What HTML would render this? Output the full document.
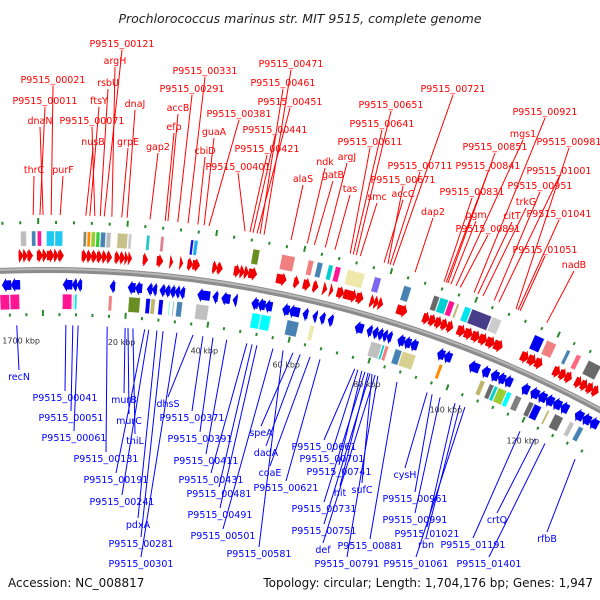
<!DOCTYPE html>
<html><head><meta charset="utf-8"><style>
html,body{margin:0;padding:0;background:#fff;width:600px;height:600px;overflow:hidden;}
svg{display:block;overflow:hidden;}
text{font-family:"DejaVu Sans","Liberation Sans",sans-serif;}
</style></head><body>
<svg id="map" width="600" height="600" viewBox="0 0 600 600" xmlns="http://www.w3.org/2000/svg">
<text x="300" y="23" text-anchor="middle" font-size="12.5" font-style="italic" fill="#222">Prochlorococcus marinus str. MIT 9515, complete genome</text>
<g id="dots"></g>
<g id="backbone"></g>
<g id="lines"></g>
<g id="feats"></g>
<g id="ticks"></g>
<g id="labels"></g>
<text x="8" y="587" font-size="12" fill="#111">Accession: NC_008817</text>
<text x="593" y="587" text-anchor="end" font-size="12" fill="#111">Topology: circular; Length: 1,704,176 bp; Genes: 1,947</text>
</svg>
<script>
const GENOME_KBP = 1704.176;
const tickKbp = [1700, 20, 40, 60, 80, 100, 120];
const tickText = ["1700 kbp", "20 kbp", "40 kbp", "60 kbp", "80 kbp", "100 kbp", "120 kbp"];
const fwdStart = [-3.5,-2.5,-1.5, 0.7,2.0,3.0,4.6,5.6, 11.0,12.2,13.3,14.5,15.7,16.8, 18.6,19.8,20.9,21.7, 25.1,28.3,31.3,33.6,35.4,36.6, 41.2,42.3, 46.2,47.6,48.6,49.6, 56.1,60.2,62.4,64.7,67.1,68.7, 70.4,72.0,75.0, 78.3,79.3,80.3, 84.7, 91.0,92.5,94.0,95.5,96.9, 99.4,101.2,103.0,104.8,106.6,108.5, 115.2,117.0,118.8, 123.4,125.0,126.5, 129.0,130.5,132.0,133.5];
const fwdEnd   = [-2.5,-1.5,-0.3, 2.0,3.0,4.6,5.6,6.8, 12.2,13.3,14.5,15.7,16.8,17.9, 19.8,20.9,21.7,22.5, 26.2,29.7,32.0,34.3,36.6,38.2, 42.3,43.5, 47.6,48.6,49.6,51.5, 58.4,61.4,64.0,65.9,68.0,69.4, 72.0,75.0,76.6, 79.3,80.3,81.3, 87.1, 92.5,94.0,95.5,96.9,98.3, 101.2,103.0,104.8,106.6,108.5,110.5, 117.0,118.8,120.5, 125.0,126.5,128.0, 130.5,132.0,133.5,134.9];
const revStart = [-7.6,-5.5, 6.75,8.9,10.0, 17.8, 22.1,23.8, 26.6,27.8, 29.6,30.8,32.0,33.2,34.3, 38.6,42.2,44.3,47.0, 51.5,53.0,54.7, 58.9,60.5,63.8,66.2,67.9,69.9, 76.5,79.4,80.8,82.0,83.2,84.3, 87.0,88.6,90.2, 96.9,98.6, 104.9,108.2, 110.5,112.3,114.0, 118.4, 120.7,122.7,124.7,126.6,128.6, 132.4,134.4,136.4];
const revEnd   = [-5.5,-3.4, 8.9,10.0,11.2, 19.0, 23.8,25.4, 27.8,28.9, 30.8,32.0,33.2,34.3,35.5, 41.5,43.4,46.3,48.0, 53.0,54.7,56.4, 60.5,63.0,65.0,67.2,69.1,71.1, 78.5,80.6,82.0,83.2,84.3,85.5, 88.6,90.2,91.9, 98.6,100.4, 107.4,110.0, 112.3,114.0,115.8, 120.2, 122.7,124.7,126.6,128.6,130.5, 134.4,136.4,138.4];
const fboxStart = [-3.1,-0.6,0.7,2.75,4.7, 11.1,12.0,12.9,14.0,15.0,16.3, 18.8,21.3, 25.4,28.6, 35.4,36.2, 49.6,56.2, 62.3,64.4,67.0,68.6,71.4,77.7,84.6, 91.7,93.2,95.3,97.2,99.1,100.8,105.7, 116.1,119.1,124.1,126.5,129.5];
const fboxEnd   = [-1.6,0.5,1.8,4.7,6.6, 12.0,12.9,14.0,15.0,16.3,17.5, 21.3,22.2, 26.3,29.5, 36.2,37.2, 51.3,59.4, 63.7,65.8,68.2,70.0,75.6,79.4,86.5, 93.2,95.3,96.8,97.9,100.8,105.7,108.1, 118.6,121.6,125.1,127.8,132.8];
const fboxColor = ["#bdbdbd","#4682b4","#ff1493","#1ec8f0","#1ec8f0", "#8b8b6b","#ff8c00","#9acd32","#32cd32","#4682b4","#bbbbbb", "#c8c08a","#cccccc", "#20c8c8","#e08090", "#1010e0","#20b0f0", "#6b8e23","#f08080", "#f08080","#4682b4","#00ced1","#ff1493","#eee8aa","#7b68ee","#4682b4", "#696969","#00ced1","#ff1493","#bdb76b","#00e5ee","#483d8b","#cccccc", "#0000ee","#f08080","#4682b4","#ff6680","#696969"];
const rboxStart = [-8.3,-5.9, 6.6,9.0,9.5, 17.6, 22.4, 26.5,27.7,29.6,32.0,33.0,33.9, 38.5, 52.0,54.2, 60.5, 66.1, 81.1,83.9,84.6, 87.1,88.9, 98.2, 108.7, 111.0,112.3,113.3,115.6, 117.8, 121.3,122.7, 126.1, 128.1, 132.1, 134.5];
const rboxEnd   = [-5.9,-3.5, 9.0,9.5,10.2, 18.6, 25.3, 27.7,28.9,30.8,32.5,33.4,35.4, 41.7, 54.2,56.7, 63.5, 67.3, 83.9,84.6,85.6, 88.9,92.4, 99.2, 110.0, 112.3,113.3,115.6,116.9, 119.5, 122.7,124.7, 126.8, 130.5, 133.4, 135.9];
const rboxColor = ["#ff1493","#ff1493", "#ff1493","#cccccc","#00e5ee", "#f08080", "#6b8e23", "#0000ee","#bdb76b","#0000ee","#7fffd4","#4682b4","#4682b4", "#c0c0c0", "#00ffff","#00ffff", "#4682b4", "#eee8aa", "#c0c0c0","#00ced1","#f08080", "#4682b4","#d8d090", "#ff8c00", "#bdb76b", "#696969","#00ced1","#9acd32","#00ffff", "#808080", "#696969","#0000ee", "#bdb76b", "#696969", "#c0c0c0", "#4682b4"];
const topNames = ["P9515_00121","argH","P9515_00021","rsbU","P9515_00011","ftsY","dnaJ","dnaN","P9515_00071","nusB","grpE","thrC","purF","P9515_00331","P9515_00291","accB","efp","gap2","P9515_00381","guaA","cbiD","P9515_00401","P9515_00471","P9515_00461","P9515_00451","P9515_00441","P9515_00421","alaS","ndk","gatB","argJ","tas","P9515_00611","P9515_00641","P9515_00651","smc","accC","P9515_00671","P9515_00711","P9515_00721","dap2","P9515_00831","P9515_00841","P9515_00851","pgm","P9515_00891","mgs1","P9515_00921","citT","trkG","P9515_00951","P9515_01001","P9515_00981","P9515_01041","P9515_01051","nadB"];
const topKbp = [15.7,17.4,3.9,14.8,1.4,12.5,20.8,2.1,13.6,11.6,19.6,-0.1,5.9,34.4,32.1,29.9,29.3,25.9,39.1,38.0,36.6,47.2,51.5,50.6,49.9,49.0,48.3,57.6,61.3,62.9,65.4,67.6,71.1,71.8,72.5,73.4,78.9,79.8,80.3,81.0,86.1,92.9,93.4,93.8,94.5,96.7,95.7,100.0,100.9,102.1,104.8,105.9,110.0,110.5,111.0,117.5];
const topLabelX = [122,115,53,108,45,99,135,40,92,93,128,34,63,205,192,178,174,158,239,214,205,238,291,283,290,275,267,303,325,333,347,350,370,382,391,377,403,403,420,453,433,472,488,495,476,488,523,545,512,526,540,559,569,559,545,574];
const topLabelY = [47,64,83,86,104,104,107,124,124,145,145,173,173,74,92,111,130,150,117,135,154,170,67,86,105,133,152,182,165,178,160,192,145,127,108,200,197,183,169,92,215,195,169,150,218,232,137,115,219,205,189,174,145,217,253,268];
const botNames = ["recN","P9515_00041","P9515_00051","P9515_00061","P9515_00131","murB","murC","thiL","P9515_00191","P9515_00241","pdxA","P9515_00281","P9515_00301","dhsS","P9515_00371","P9515_00391","P9515_00411","P9515_00431","P9515_00481","P9515_00491","P9515_00501","P9515_00581","speA","dadA","coaE","P9515_00621","P9515_00661","P9515_00701","P9515_00741","P9515_00731","hit","sufC","P9515_00751","def","P9515_00791","P9515_00881","cysH","P9515_00961","P9515_00991","P9515_01021","rbn","P9515_01061","P9515_01191","crtQ","P9515_01401","rfbB"];
const botKbp = [-4.4,7.6,9.3,10.6,17.7,22.1,22.8,24.0,26.9,27.9,29.9,31.4,34.8,38.8,41.2,43.7,47.1,52.1,53.4,54.6,58.6,61.1,63.6,65.4,67.9,70.4,79.2,80.0,81.0,81.8,82.6,83.6,83.1,84.4,85.1,90.0,97.8,99.1,101.2,105.1,106.4,107.7,122.4,126.5,129.2,137.5];
const botLabelX = [19,65,71,74,106,124,129,135,116,122,138,141,141,168,192,200,206,211,219,220,223,259,261,266,270,286,324,332,339,324,340,362,324,323,347,370,405,415,415,427,426,416,473,497,489,547];
const botLabelY = [380,401,421,441,462,403,424,444,483,505,528,547,567,407,421,442,464,483,497,518,539,557,436,456,476,491,450,462,475,512,496,493,534,553,567,549,478,502,523,537,548,567,548,523,567,542];

const NS = "http://www.w3.org/2000/svg";
const CX = 46, CY = 1435, R = 1165;
function ang(k){ return (k / GENOME_KBP * 360 - 0.58) * Math.PI / 180; }
function px(k, r){ return CX + r * Math.sin(ang(k)); }
function py(k, r){ return CY - r * Math.cos(ang(k)); }
function P(k, r){ return px(k, r).toFixed(2) + "," + py(k, r).toFixed(2); }
function mk(tag, parent){ const e = document.createElementNS(NS, tag); document.getElementById(parent).appendChild(e); return e; }
function arcPath(k0, k1, r){ return "M" + P(k0, r) + " A" + r + "," + r + " 0 0 1 " + P(k1, r); }

let bb = mk("path", "backbone");


bb.setAttribute("d", arcPath(-10, 142, R));
bb.setAttribute("fill", "none"); bb.setAttribute("stroke", "#8c8c8c"); bb.setAttribute("stroke-width", "6");
let bb2 = mk("path", "backbone");


bb2.setAttribute("d", arcPath(-10, 142, R + 1));
bb2.setAttribute("fill", "none"); bb2.setAttribute("stroke", "#b8b8b8"); bb2.setAttribute("stroke-width", "2");

for (let k = -12; k <= 136; k += 4) {
  const longT = (k % 20 === 0);
  for (const side of [1, -1]) {
    const r0 = R + side * 46, len = longT ? 6 : 3;
    const kk = k + (side > 0 ? 1 : 2);
    const d = mk("line", "dots");
    
    
    d.setAttribute("x1", px(kk, r0)); d.setAttribute("y1", py(kk, r0));
    d.setAttribute("x2", px(kk, r0 + len)); d.setAttribute("y2", py(kk, r0 + len));
    d.setAttribute("stroke", "#2a8a2a"); d.setAttribute("stroke-width", "2");
  }
}

function arrow(s, e, dir, r1, r2, color, name){
  const head = 0.9, mid = (r1 + r2) / 2;
  let pts;
  if (dir > 0) {
    const h = Math.max(s, e - head);
    pts = [P(s, r1 + 2), P(h, r1 + 2), P(h, r1), P(e, mid), P(h, r2), P(h, r2 - 2), P(s, r2 - 2)];
  } else {
    const h = Math.min(e, s + head);
    pts = [P(e, r1 + 2), P(h, r1 + 2), P(h, r1), P(s, mid), P(h, r2), P(h, r2 - 2), P(e, r2 - 2)];
  }
  const p = mk("polygon", "feats");
  
  
  p.setAttribute("points", pts.join(" "));
  p.setAttribute("fill", color); p.setAttribute("stroke", color); p.setAttribute("stroke-width", "0.5");
}
for (let i = 0; i < fwdStart.length; i++) arrow(fwdStart[i], fwdEnd[i], 1, R + 8, R + 21, "#f00000", "forward-gene");
for (let i = 0; i < revStart.length; i++) arrow(revStart[i], revEnd[i], -1, R - 21, R - 8, "#0000f0", "reverse-gene");

function box(s, e, r1, r2, color, name){
  const p = mk("polygon", "feats");
  
  
  p.setAttribute("points", [P(s + 0.1, r1), P(e - 0.1, r1), P(e - 0.1, r2), P(s + 0.1, r2)].join(" "));
  p.setAttribute("fill", color); p.setAttribute("stroke", "#ffffff"); p.setAttribute("stroke-width", "0.6"); p.setAttribute("stroke-opacity", "0.5");
}
for (let i = 0; i < fboxStart.length; i++) box(fboxStart[i], fboxEnd[i], R + 24, R + 39, fboxColor[i], "forward-feature-box");
for (let i = 0; i < rboxStart.length; i++) box(rboxStart[i], rboxEnd[i], R - 39, R - 24, rboxColor[i], "reverse-feature-box");

for (let i = 0; i < tickKbp.length; i++) {
  const kk = tickKbp[i] > 1000 ? tickKbp[i] - GENOME_KBP : tickKbp[i];
  const t = mk("text", "ticks");
  
  
  t.setAttribute("x", px(kk, R - 70) + 6 + 0.12 * (kk - 20)); t.setAttribute("y", py(kk, R - 70) + 3);
  t.setAttribute("text-anchor", "middle"); t.setAttribute("font-size", "8"); t.setAttribute("fill", "#333");
  t.textContent = tickText[i];
}

function label(name, k, lx, ly, top){
  const col = top ? "#ff0000" : "#0000ff";
  const l = mk("line", "lines");
  
  
  l.setAttribute("x1", lx); l.setAttribute("y1", top ? ly + 3 : ly - 10);
  const r = top ? R + 55 : R - 55;
  l.setAttribute("x2", px(k, r)); l.setAttribute("y2", py(k, r));
  l.setAttribute("stroke", col); l.setAttribute("stroke-width", "1");
  const t = mk("text", "labels");
  
  
  t.setAttribute("x", lx); t.setAttribute("y", ly);
  t.setAttribute("text-anchor", "middle"); t.setAttribute("font-size", "9.5"); t.setAttribute("fill", col);
  t.textContent = name;
}
for (let i = 0; i < topNames.length; i++) label(topNames[i], topKbp[i], topLabelX[i], topLabelY[i], true);
for (let i = 0; i < botNames.length; i++) label(botNames[i], botKbp[i], botLabelX[i], botLabelY[i], false);
</script>
</body></html>
